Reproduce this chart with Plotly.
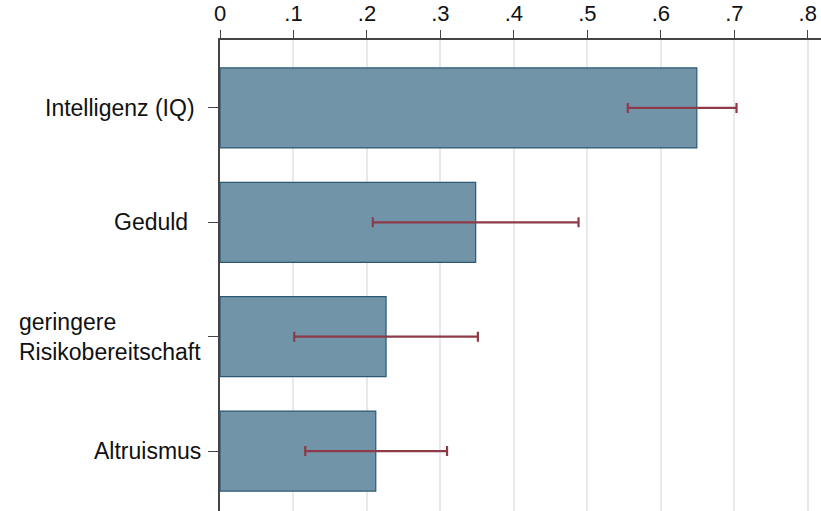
import plotly.graph_objects as go

# Horizontal bar chart with confidence intervals
categories = ["Intelligenz (IQ)\u00a0", "Geduld\u00a0\u00a0", "geringere<br>Risikobereitschaft", "Altruismus"]
values = [0.649, 0.348, 0.226, 0.212]
ci_low = [0.555, 0.208, 0.101, 0.116]
ci_high = [0.703, 0.488, 0.351, 0.309]
tick_vals = [0, 0.1, 0.2, 0.3, 0.4, 0.5, 0.6, 0.7, 0.8]
tick_text = ["0", ".1", ".2", ".3", ".4", ".5", ".6", ".7", ".8"]

pos = list(range(len(categories)))
FONT = "Liberation Sans, Arial, sans-serif"

fig = go.Figure()
fig.add_trace(go.Bar(
    x=values, y=pos, orientation="h", width=0.7,
    marker=dict(color="#7294a8", line=dict(color="#2c5873", width=1.2)),
    error_x=dict(type="data", symmetric=False,
                 array=[h - v for h, v in zip(ci_high, values)],
                 arrayminus=[v - l for v, l in zip(values, ci_low)],
                 color="#8e3a48", thickness=2.2, width=5),
    hoverinfo="skip",
))

for p, label in zip(pos, categories):
    fig.add_annotation(x=0, xref="paper", y=p, yref="y", text=label,
                       xanchor="right", yanchor="middle", align="left",
                       xshift=-17, showarrow=False,
                       font=dict(family=FONT, size=23, color="#111111"))

fig.update_layout(
    width=821, height=511,
    margin=dict(l=220, r=0, t=40, b=0),
    paper_bgcolor="white", plot_bgcolor="white",
    showlegend=False,
    bargap=0.3,
    xaxis=dict(side="top", range=[0, 0.818], tickvals=tick_vals, ticktext=tick_text,
               showgrid=True, gridcolor="#e9e9e9", gridwidth=2,
               zeroline=False, showline=True, linecolor="#444444", linewidth=1.5,
               ticks="outside", ticklen=8, tickcolor="#444444",
               tickfont=dict(family=FONT, size=22, color="#111111")),
    yaxis=dict(range=[3.524, -0.594], tickvals=pos, showticklabels=False,
               showgrid=False, zeroline=False, showline=True,
               linecolor="#444444", linewidth=1.5,
               ticks="outside", ticklen=10, tickcolor="#444444"),
)

fig.write_html("out.html")
